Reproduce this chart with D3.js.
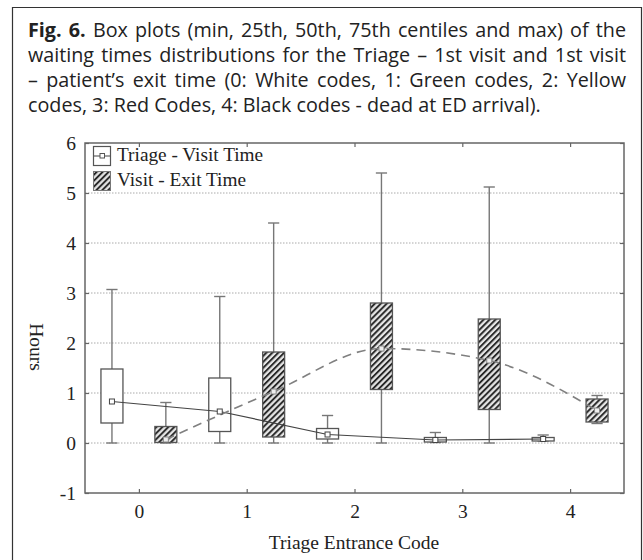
<!DOCTYPE html>
<html>
<head>
  <meta charset="utf-8" />
  <title>Fig. 6 box plots</title>
  <script src="https://d3js.org/d3.v7.min.js"></script>
  <style>
    body { margin: 0; background: #fff; }
    svg { display: block; }
    .cap { font-family: "Open Sans", sans-serif; fill: #222; }
    .serif { font-family: "Liberation Serif", "Times New Roman", serif; fill: #222; }
    .axis line { stroke: #666; stroke-width: 1.2; }
    .axis path { display: none; }
    .axis text { font-family: "Liberation Serif", serif; font-size: 19.5px; fill: #222; }
  </style>
</head>
<body>
  <svg id="chart" width="643" height="560"></svg>
  <script>
    // categories and tick labels
    var codes = [0, 1, 2, 3, 4];
    var yTicks = [-1, 0, 1, 2, 3, 4, 5, 6];

    // Triage - Visit Time (hours)
    var triageMin = [0, 0, 0, 0.01, 0.04];
    var triageQ1 = [0.40, 0.23, 0.08, 0.02, 0.04];
    var triageMed = [0.83, 0.63, 0.17, 0.06, 0.08];
    var triageQ3 = [1.48, 1.30, 0.29, 0.11, 0.11];
    var triageMax = [3.07, 2.93, 0.55, 0.21, 0.16];

    // Visit - Exit Time (hours)
    var visitMin = [0, 0, 0, 0, 0.39];
    var visitQ1 = [0.01, 0.12, 1.07, 0.67, 0.42];
    var visitMed = [0.07, 1.03, 1.89, 1.65, 0.65];
    var visitQ3 = [0.33, 1.82, 2.80, 2.48, 0.88];
    var visitMax = [0.81, 4.40, 5.40, 5.12, 0.95];

    var captionLines = [
      ["Fig. 6.", " Box plots (min, 25th, 50th, 75th centiles and max) of the"],
      ["", "waiting times distributions for the Triage \u2013 1st visit and 1st visit"],
      ["", "\u2013 patient\u2019s exit time (0: White codes, 1: Green codes, 2: Yellow"],
      ["", "codes, 3: Red Codes, 4: Black codes - dead at ED arrival)."]
    ];

    var svg = d3.select("#chart");

    // outer frame of the figure
    svg.append("path")
      .attr("d", "M12.5,570 V7.5 H641.5 V570")
      .attr("fill", "none")
      .attr("stroke", "#333")
      .attr("stroke-width", 1.2);

    // caption, justified lines
    var capLeft = 28, capRight = 626;
    var cap = svg.append("g");
    var lines = cap.selectAll("text")
      .data(captionLines)
      .enter().append("text")
      .attr("class", "cap")
      .attr("x", capLeft)
      .attr("y", function (d, i) { return 37 + i * 25; })
      .style("font-size", "100px");
    lines.append("tspan").style("font-weight", "bold").text(function (d) { return d[0]; });
    lines.append("tspan").text(function (d) { return d[1]; });

    // pick a font size so the last (unjustified) line has the reference width
    var last = lines.nodes()[3];
    var fs = 100 * 513 / last.getComputedTextLength();
    lines.style("font-size", fs + "px");
    lines.each(function (d, i) {
      if (i === 3) return;
      var natural = this.getComputedTextLength();
      var spaces = (d[0] + d[1]).split(" ").length - 1;
      d3.select(this).style("word-spacing", ((capRight - capLeft - natural) / spaces) + "px");
    });

    // plot area
    var plotL = 85, plotR = 624, plotT = 143, plotB = 493;
    var x = d3.scaleLinear().domain([-0.5, 4.5]).range([plotL, plotR]);
    var y = d3.scaleLinear().domain([-1, 6]).range([plotB, plotT]);

    // hatch pattern
    var defs = svg.append("defs");
    var pat = defs.append("pattern")
      .attr("id", "hatch")
      .attr("patternUnits", "userSpaceOnUse")
      .attr("width", 4.2)
      .attr("height", 4.2)
      .attr("patternTransform", "rotate(45)");
    pat.append("rect").attr("width", 4.2).attr("height", 4.2).attr("fill", "#e6e6e6");
    pat.append("line").attr("x1", 1).attr("x2", 1).attr("y1", 0).attr("y2", 4.2)
      .attr("stroke", "#222").attr("stroke-width", 1.9);

    // gridlines
    svg.append("g")
      .selectAll("line")
      .data(yTicks.filter(function (d) { return d > -1 && d < 6; }))
      .enter().append("line")
      .attr("x1", plotL).attr("x2", plotR)
      .attr("y1", function (d) { return y(d); })
      .attr("y2", function (d) { return y(d); })
      .attr("stroke", "#aaa")
      .attr("stroke-width", 1)
      .attr("stroke-dasharray", "1.5,1.5");

    // axes, ticks pointing inwards
    svg.append("g").attr("class", "axis")
      .attr("transform", "translate(0," + plotB + ")")
      .call(d3.axisBottom(x).tickValues(codes).tickSize(-4).tickPadding(11).tickFormat(function (d) { return String(d); }));
    svg.append("g").attr("class", "axis")
      .attr("transform", "translate(0," + plotT + ")")
      .call(d3.axisTop(x).tickValues(codes).tickSize(-4).tickFormat(""));
    svg.append("g").attr("class", "axis")
      .attr("transform", "translate(" + plotL + ",0)")
      .call(d3.axisLeft(y).tickValues(yTicks).tickSize(-4).tickPadding(9).tickFormat(function (d) { return String(d); }));
    svg.append("g").attr("class", "axis")
      .attr("transform", "translate(" + plotR + ",0)")
      .call(d3.axisRight(y).tickValues(yTicks).tickSize(-4).tickFormat(""));

    svg.append("rect")
      .attr("x", plotL).attr("y", plotT)
      .attr("width", plotR - plotL).attr("height", plotB - plotT)
      .attr("fill", "none")
      .attr("stroke", "#666")
      .attr("stroke-width", 1.5);

    // box plots
    var offset = 0.25, halfBox = 0.102, halfCap = 0.052;
    function drawBoxes(mins, q1s, meds, q3s, maxs, shift, fill) {
      var rows = codes.map(function (c, i) {
        return { c: c + shift, min: mins[i], q1: q1s[i], med: meds[i], q3: q3s[i], max: maxs[i] };
      });
      var g = svg.append("g");
      var b = g.selectAll("g").data(rows).enter().append("g");
      b.append("line")
        .attr("x1", function (d) { return x(d.c); }).attr("x2", function (d) { return x(d.c); })
        .attr("y1", function (d) { return y(d.max); }).attr("y2", function (d) { return y(d.min); })
        .attr("stroke", "#777").attr("stroke-width", 1.4);
      ["max", "min"].forEach(function (k) {
        b.append("line")
          .attr("x1", function (d) { return x(d.c - halfCap); }).attr("x2", function (d) { return x(d.c + halfCap); })
          .attr("y1", function (d) { return y(d[k]); }).attr("y2", function (d) { return y(d[k]); })
          .attr("stroke", "#777").attr("stroke-width", 1.4);
      });
      b.append("rect")
        .attr("x", function (d) { return x(d.c - halfBox); })
        .attr("width", function (d) { return x(d.c + halfBox) - x(d.c - halfBox); })
        .attr("y", function (d) { return y(d.q3); })
        .attr("height", function (d) { return Math.max(y(d.q1) - y(d.q3), 1); })
        .attr("fill", fill)
        .attr("stroke", "#555").attr("stroke-width", 1.3);
      return rows;
    }

    var tRows = drawBoxes(triageMin, triageQ1, triageMed, triageQ3, triageMax, -offset, "#fff");
    var vRows = drawBoxes(visitMin, visitQ1, visitMed, visitQ3, visitMax, offset, "url(#hatch)");

    // median lines
    var medLine = d3.line()
      .x(function (d) { return x(d.c); })
      .y(function (d) { return y(d.med); });

    svg.append("path").datum(tRows)
      .attr("d", medLine)
      .attr("fill", "none").attr("stroke", "#444").attr("stroke-width", 1.2);
    svg.append("path").datum(vRows)
      .attr("d", medLine.curve(d3.curveMonotoneX))
      .attr("fill", "none").attr("stroke", "#808080").attr("stroke-width", 1.6)
      .attr("stroke-dasharray", "9,6");

    [tRows, vRows].forEach(function (rows, k) {
      svg.append("g").selectAll("rect").data(rows).enter().append("rect")
        .attr("x", function (d) { return x(d.c) - 2.5; })
        .attr("y", function (d) { return y(d.med) - 2.5; })
        .attr("width", 5).attr("height", 5)
        .attr("fill", k === 0 ? "#fff" : "#eee")
        .attr("stroke", k === 0 ? "#444" : "#888").attr("stroke-width", 1);
    });

    // legend
    var lg = svg.append("g");
    lg.append("rect").attr("x", 93.5).attr("y", 146.5).attr("width", 17).attr("height", 19)
      .attr("fill", "#fff").attr("stroke", "#555").attr("stroke-width", 1.2);
    lg.append("line").attr("x1", 93.5).attr("x2", 110.5).attr("y1", 156).attr("y2", 156)
      .attr("stroke", "#555").attr("stroke-width", 1.1);
    lg.append("rect").attr("x", 100).attr("y", 153.5).attr("width", 4.5).attr("height", 4.5)
      .attr("fill", "#fff").attr("stroke", "#555").attr("stroke-width", 1);
    lg.append("rect").attr("x", 93.5).attr("y", 171.5).attr("width", 17).attr("height", 19)
      .attr("fill", "url(#hatch)").attr("stroke", "#777").attr("stroke-width", 1);
    lg.append("text").attr("class", "serif").attr("x", 117).attr("y", 161)
      .style("font-size", "19.3px").text("Triage - Visit Time");
    lg.append("text").attr("class", "serif").attr("x", 117).attr("y", 186)
      .style("font-size", "19.3px").text("Visit - Exit Time");

    // axis titles
    svg.append("text").attr("class", "serif")
      .attr("transform", "translate(30,347) rotate(90)")
      .attr("text-anchor", "middle")
      .style("font-size", "19.5px")
      .text("Hours");
    svg.append("text").attr("class", "serif")
      .attr("x", 354).attr("y", 549)
      .attr("text-anchor", "middle")
      .style("font-size", "19.5px")
      .text("Triage Entrance Code");
  </script>
</body>
</html>
